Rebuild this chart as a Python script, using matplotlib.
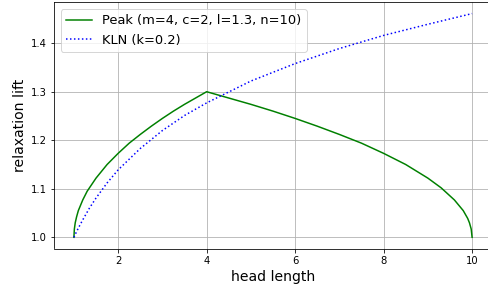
import numpy as np
import matplotlib
matplotlib.use("Agg")
import matplotlib.pyplot as plt

# values
peak_x = [1.0, 1.01, 1.03, 1.06, 1.1, 1.2, 1.3, 1.5, 1.75, 2.0, 2.25, 2.5, 2.75, 3.0, 3.25, 3.5, 3.75, 4.0,
          4.5, 5.0, 5.5, 6.0, 6.5, 7.0, 7.5, 8.0, 8.5, 9.0, 9.3, 9.6, 9.8, 9.9, 9.94, 9.98, 10.0]
peak_y = [1.0, 1.017, 1.030, 1.042, 1.055, 1.077, 1.095, 1.122, 1.150, 1.173, 1.194, 1.212, 1.229, 1.245, 1.260, 1.274, 1.287, 1.300,
          1.287, 1.274, 1.260, 1.245, 1.229, 1.212, 1.194, 1.173, 1.150, 1.122, 1.102, 1.077, 1.055, 1.039, 1.030, 1.017, 1.0]

kln_x = [1.0, 1.05, 1.1, 1.2, 1.35, 1.5, 1.75, 2.0, 2.5, 3.0, 3.5, 4.0, 5.0, 6.0, 7.0, 8.0, 9.0, 10.0]
kln_y = [1.0, 1.0098, 1.019, 1.036, 1.060, 1.081, 1.112, 1.139, 1.183, 1.220, 1.251, 1.277, 1.322, 1.358, 1.389, 1.416, 1.439, 1.461]

W, H = 488, 286
fig = plt.figure(figsize=(W / 72, H / 72), dpi=72)
ax = fig.add_axes([54 / W, (H - 248.5) / H, (492 - 54) / W, (248.5 - 2.4) / H])

ax.plot(peak_x, peak_y, color="g", label="Peak (m=4, c=2, l=1.3, n=10)")
ax.plot(kln_x, kln_y, color="b", linestyle=":", label="KLN (k=0.2)")

ax.set_xticks([2, 4, 6, 8, 10])
ax.set_yticks([1.0, 1.1, 1.2, 1.3, 1.4])
ax.tick_params(labelsize=10)
ax.set_xlabel("head length", fontsize=14)
ax.set_ylabel("relaxation lift", fontsize=14)
ax.grid(True)
ax.legend(loc="upper left", fontsize=13)

fig.savefig("out.png", dpi=72)
